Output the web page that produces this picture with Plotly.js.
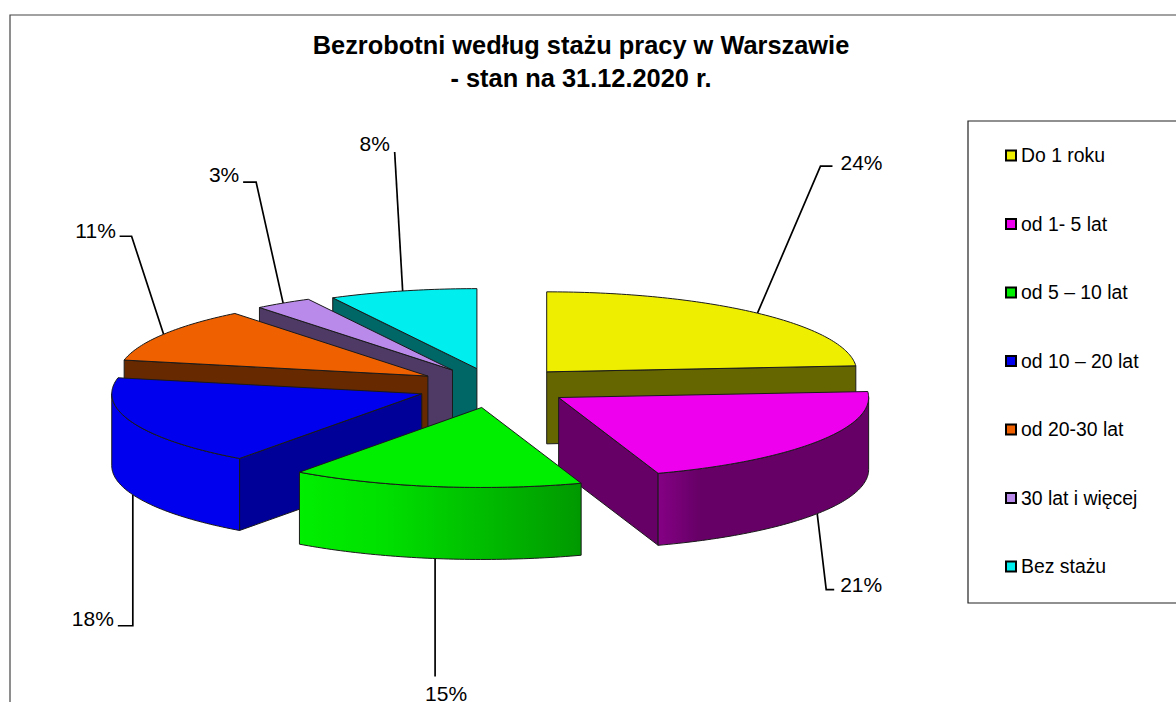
<!DOCTYPE html>
<html>
<head>
<meta charset="utf-8">
<script src="https://cdn.plot.ly/plotly-3.0.1.min.js"></script>
<style>html,body{margin:0;padding:0;background:#fff;overflow:hidden}</style>
</head>
<body>
<div id="chart" style="width:1176px;height:702px"></div>
<script>
// ---- data ----
const categories = ['Do 1 roku', 'od 1- 5 lat', 'od 5 – 10 lat', 'od 10 – 20 lat', 'od 20-30 lat', '30 lat i więcej', 'Bez stażu'];
const shares = [23.8, 21.0, 15.2, 18.2, 11.1, 3.0, 7.7];
const titleText = 'Bezrobotni według stażu pracy w Warszawie<br>- stan na 31.12.2020 r.';

// ---- styles ----
const topColors = ['#EEEE00', '#EE00EE', '#00EE00', '#0000EE', '#EE6000', '#B98AEA', '#00EEEE'];
const cutColors = ['#666600', '#660066', '#009900', '#000099', '#662900', '#4F3A66', '#006666'];
const arcFills = [
  null,
  [[0, '#850085'], [0.2, '#660066'], [1, '#660066']],
  [[0, '#00EE00'], [0.3, '#00E000'], [1, '#009900']],
  null, null, null, null
];
const arcFlat = ['#666600', '#660066', '#009900', '#0000EE', '#662900', '#4F3A66', '#006666'];

// ---- pie geometry (in axis units, which match the page pixels) ----
const pie = {cx: 494, cy: 386.5, rx: 310, ry: 80, depth: 72};
const explode = [0.25, 0.25, 0.265, 0.25, 0.25, 0.245, 0.23];
const leaderElbow = [[63, -147], [9, 76], [0, 118], [0, 131], [-32, -98], [-27, -121], [-8, -139]];
const leaderTail = [12, 8, 0, -15, -12, -13, 0];
const labelOffset = [[41, -1], [35, -3], [11, 19], [-40, -5], [-36, -4], [-32, -5], [-20, -6]];
const legendBox = {x0: 968, y0: 121, y1: 603};
const legendRow = {x: 1011, y0: 155.5, step: 68.5, textDx: 10, textDy: 2};

const rad = d => d * Math.PI / 180;
const total = shares.reduce((a, b) => a + b, 0);
let acc = 0;
const slices = shares.map((v, i) => {
  const a0 = acc / total * 360;
  acc += v;
  const a1 = acc / total * 360;
  const mid = (a0 + a1) / 2;
  const ax = pie.cx + explode[i] * pie.rx * Math.sin(rad(mid));
  const ay = pie.cy - explode[i] * pie.ry * Math.cos(rad(mid));
  return {i, a0, a1, mid, ax, ay};
});
const pt = (s, a, dz = 0) => [s.ax + pie.rx * Math.sin(rad(a)), s.ay - pie.ry * Math.cos(rad(a)) + dz];
const arc = (s, a, b, dz = 0) => {
  const out = [];
  const n = Math.max(2, Math.ceil(Math.abs(b - a)));
  for (let k = 0; k <= n; k++) out.push(pt(s, a + (b - a) * k / n, dz));
  return out;
};
const poly = (pts, fill, extra = {}) => Object.assign({
  type: 'scatter', mode: 'lines', x: pts.map(p => p[0]), y: pts.map(p => p[1]),
  fill: 'toself', fillcolor: fill, line: {color: '#1a1a1a', width: 1, simplify: false},
  hoverinfo: 'skip', showlegend: false
}, extra);

const traces = [];

// leader lines first, so the slices sit above their ends
slices.forEach(s => {
  const front = s.mid > 90 && s.mid < 270;
  const [sx, sy] = pt(s, s.mid, front ? pie.depth : 0);
  const ex = sx + leaderElbow[s.i][0], ey = sy + leaderElbow[s.i][1];
  traces.push({
    type: 'scatter', mode: 'lines', x: [sx, ex, ex + leaderTail[s.i]], y: [sy, ey, ey],
    line: {color: '#000', width: 1.7}, hoverinfo: 'skip', showlegend: false
  });
  traces.push({
    type: 'scatter', mode: 'text', x: [ex + labelOffset[s.i][0]], y: [ey + labelOffset[s.i][1]],
    text: [Math.round(shares[s.i]) + '%'], textposition: 'middle center',
    textfont: {family: 'Liberation Sans, Arial, sans-serif', size: 21, color: '#000'},
    hoverinfo: 'skip', showlegend: false
  });
});

// back to front, the way the slices overlap
const drawOrder = [0, 6, 5, 4, 3, 1, 2];
drawOrder.forEach(i => {
  const s = slices[i];
  const apex = [s.ax, s.ay];
  const sinA0 = Math.sin(rad(s.a0)), sinA1 = Math.sin(rad(s.a1));
  // cut faces that look towards the viewer
  if (sinA0 < -1e-6) {
    const e = pt(s, s.a0);
    traces.push(poly([apex, e, [e[0], e[1] + pie.depth], [apex[0], apex[1] + pie.depth], apex], cutColors[i]));
  }
  if (sinA1 > 1e-6) {
    const e = pt(s, s.a1);
    traces.push(poly([apex, e, [e[0], e[1] + pie.depth], [apex[0], apex[1] + pie.depth], apex], cutColors[i]));
  }
  // outer rim, only where it faces the viewer
  const r0 = Math.max(s.a0, 90), r1 = Math.min(s.a1, 270);
  if (r1 > r0) {
    const rim = arc(s, r0, r1).concat(arc(s, r1, r0, pie.depth));
    rim.push(rim[0]);
    const extra = arcFills[i]
      ? {fillcolor: undefined, fillgradient: {type: 'horizontal', colorscale: arcFills[i]}}
      : {};
    traces.push(poly(rim, arcFlat[i], extra));
  }
  // top surface
  const top = [apex].concat(arc(s, s.a0, s.a1));
  top.push(apex);
  traces.push(poly(top, topColors[i]));
});

// legend rows
traces.push({
  type: 'scatter', mode: 'markers',
  x: categories.map(() => legendRow.x),
  y: categories.map((c, i) => legendRow.y0 + i * legendRow.step),
  marker: {symbol: 'square', size: 10, color: topColors, line: {color: '#000', width: 2}},
  hoverinfo: 'skip', showlegend: false
});
traces.push({
  type: 'scatter', mode: 'text',
  x: categories.map(() => legendRow.x + legendRow.textDx),
  y: categories.map((c, i) => legendRow.y0 + legendRow.textDy + i * legendRow.step),
  text: categories, textposition: 'middle right',
  textfont: {family: 'Liberation Sans, Arial, sans-serif', size: 19.4, color: '#000'},
  hoverinfo: 'skip', showlegend: false
});

const layout = {
  width: 1176, height: 702,
  margin: {l: 0, r: 0, t: 0, b: 0, pad: 0},
  paper_bgcolor: '#fff', plot_bgcolor: '#fff',
  showlegend: false,
  title: {
    text: titleText, x: 581 / 1176, xanchor: 'center', xref: 'paper',
    y: 1 - 54 / 702, yanchor: 'top', yref: 'paper', automargin: false,
    font: {family: 'Liberation Sans, Arial, sans-serif', size: 25.4, color: '#000', weight: 'bold'}
  },
  xaxis: {range: [0, 1176], visible: false, fixedrange: true},
  yaxis: {range: [702, 0], visible: false, fixedrange: true},
  shapes: [
    {type: 'rect', xref: 'x', yref: 'y', x0: 10, y0: 15, x1: 1190, y1: 720, line: {color: '#444', width: 1.2}, layer: 'below'},
    {type: 'rect', xref: 'x', yref: 'y', x0: legendBox.x0, y0: legendBox.y0, x1: 1190, y1: legendBox.y1, line: {color: '#222', width: 1.2}, fillcolor: '#fff', layer: 'below'}
  ]
};
Plotly.newPlot('chart', traces, layout, {displayModeBar: false, responsive: false});
</script>
</body>
</html>
